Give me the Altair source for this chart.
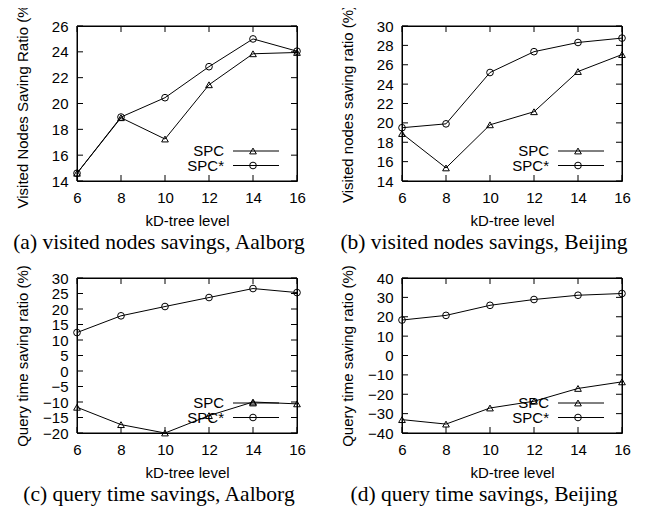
import altair as alt
import pandas as pd

levels = [6, 8, 10, 12, 14, 16]
series_names = ["SPC", "SPC*"]
marker_shapes = ["triangle-up", "circle"]

a_spc = [14.6, 18.9, 17.25, 21.45, 23.85, 23.95]
a_spcs = [14.6, 18.95, 20.45, 22.85, 25.0, 24.05]
b_spc = [18.9, 15.35, 19.8, 21.15, 25.3, 27.05]
b_spcs = [19.5, 19.9, 25.2, 27.35, 28.3, 28.75]
c_spc = [-11.7, -17.3, -20.0, -14.4, -10.0, -10.6]
c_spcs = [12.4, 17.8, 20.8, 23.7, 26.6, 25.3]
d_spc = [-33.1, -35.4, -27.1, -23.6, -17.0, -13.6]
d_spcs = [18.3, 20.7, 25.9, 28.9, 31.1, 32.0]

x_title = "kD-tree level"
y_titles = [
    "Visited Nodes Saving Ratio (%)",
    "Visited nodes saving ratio (%)",
    "Query time saving ratio (%)",
    "Query time saving ratio (%)",
]
captions = [
    "(a) visited nodes savings, Aalborg",
    "(b) visited nodes savings, Beijing",
    "(c) query time savings, Aalborg",
    "(d) query time savings, Beijing",
]
y_domains = [[14, 26], [14, 30], [-20, 30], [-40, 40]]
y_ticks = [
    [14, 16, 18, 20, 22, 24, 26],
    [14, 16, 18, 20, 22, 24, 26, 28, 30],
    [-20, -15, -10, -5, 0, 5, 10, 15, 20, 25, 30],
    [-40, -30, -20, -10, 0, 10, 20, 30, 40],
]
spc_series = [a_spc, b_spc, c_spc, d_spc]
spcs_series = [a_spcs, b_spcs, c_spcs, d_spcs]

W, H = 220, 155
TICK = 6
FONT = "Liberation Sans"
MSIZE = 45


def panel(spc, spcs, ytitle, caption, ydom, yticks):
    df = pd.DataFrame({
        "level": levels * 2,
        "value": spc + spcs,
        "series": [series_names[0]] * len(levels) + [series_names[1]] * len(levels),
    })
    xscale = alt.Scale(domain=[levels[0], levels[-1]], nice=False, zero=False)
    yscale = alt.Scale(domain=ydom, nice=False, zero=False)
    xaxis = alt.Axis(values=levels, title=x_title, labelPadding=9,
                     titleY=44, titleBaseline="alphabetic")
    yaxis = alt.Axis(values=yticks, title=ytitle, labelPadding=9, titleX=-47)
    xenc = alt.X("level:Q", scale=xscale, axis=xaxis)
    yenc = alt.Y("value:Q", scale=yscale, axis=yaxis)
    shape = alt.Shape("series:N", scale=alt.Scale(domain=series_names, range=marker_shapes), legend=None)

    # frame of the plot area
    frame = alt.Chart(pd.DataFrame({"level": [levels[0]], "value": [ydom[0]]})).mark_rect(
        fill=None, stroke="black", strokeWidth=1).encode(
        x=alt.value(0), x2=alt.value(W), y=alt.value(0), y2=alt.value(H))

    lines = alt.Chart(df).mark_line(color="black", strokeWidth=1).encode(
        x=xenc, y=yenc, detail="series:N")
    points = alt.Chart(df).mark_point(filled=False, color="black", size=MSIZE, strokeWidth=1, opacity=1).encode(
        x=xenc, y=yenc, shape=shape)

    ytdf = pd.DataFrame({"value": yticks})
    xtdf = pd.DataFrame({"level": levels})
    tl = alt.Chart(ytdf).mark_rule(color="black", strokeWidth=1).encode(y=yenc, x=alt.value(0), x2=alt.value(TICK))
    tr = alt.Chart(ytdf).mark_rule(color="black", strokeWidth=1).encode(y=yenc, x=alt.value(W - TICK), x2=alt.value(W))
    tb = alt.Chart(xtdf).mark_rule(color="black", strokeWidth=1).encode(x=xenc, y=alt.value(H - TICK), y2=alt.value(H))
    tt = alt.Chart(xtdf).mark_rule(color="black", strokeWidth=1).encode(x=xenc, y=alt.value(0), y2=alt.value(TICK))

    layers = [frame, lines, points, tl, tr, tb, tt]
    for i, name in enumerate(series_names):
        ly = 125 + 14.5 * i
        ldf = pd.DataFrame({"series": [name]})
        layers.append(alt.Chart(ldf).mark_text(align="right", baseline="middle", font=FONT, fontSize=15, color="black").encode(
            text="series:N", x=alt.value(147), y=alt.value(ly)))
        layers.append(alt.Chart(ldf).mark_rule(color="black", strokeWidth=1).encode(
            x=alt.value(156), x2=alt.value(202), y=alt.value(ly)))
        layers.append(alt.Chart(ldf).mark_point(filled=False, color="black", size=MSIZE, strokeWidth=1, opacity=1).encode(
            x=alt.value(176), y=alt.value(ly), shape=alt.value(marker_shapes[i])))

    cdf = pd.DataFrame({"caption": [caption]})
    layers.append(alt.Chart(cdf).mark_text(align="center", baseline="alphabetic", font="Liberation Serif",
                                           fontSize=21.5, color="black").encode(
        text="caption:N", x=alt.value(82), y=alt.value(H + 68)))

    return alt.layer(*layers).properties(width=W, height=H)


panels = [panel(spc_series[i], spcs_series[i], y_titles[i], captions[i], y_domains[i], y_ticks[i])
          for i in range(4)]

chart = alt.concat(*panels, columns=2, spacing={"row": 97, "column": 105}, bounds="flush").properties(
    padding={"left": 4, "top": -10, "right": 5, "bottom": 5}
).configure_view(stroke="black", strokeWidth=1).configure_axis(
    grid=False, ticks=False, tickSize=0, domain=False, labelFlush=False, labelOverlap=False,
    labelFont=FONT, labelFontSize=15, labelColor="black",
    titleFont=FONT, titleFontSize=15, titleFontWeight="normal", titleColor="black",
)

chart.save("out.html", embed_options={"renderer": "svg", "actions": False})
